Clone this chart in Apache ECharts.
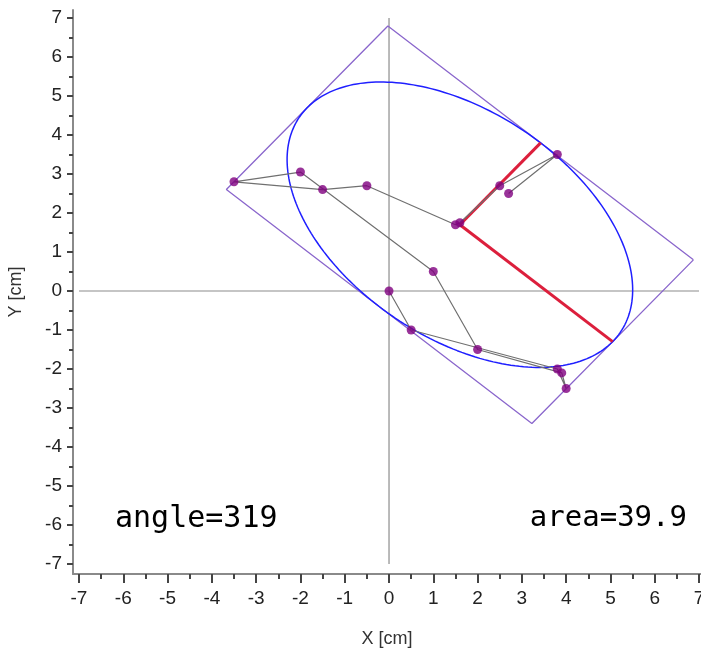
<!DOCTYPE html>
<html>
<head>
<meta charset="utf-8">
<title>Ellipse fit</title>
<script src="https://cdn.jsdelivr.net/npm/echarts@6/dist/echarts.min.js"></script>
<style>
  html, body { margin: 0; padding: 0; background: #ffffff; }
  #chart { width: 701px; height: 653px; }
</style>
</head>
<body>
<div id="chart"></div>
<script>
// Tracked positions, in drawing order (cm)
const pathX = [0, 0.5, 3.8, 4.0, 3.9, 2.0, 1.0, -2.0, -3.5, -1.5, -0.5, 1.5, 1.6, 2.5, 3.8, 2.7];
const pathY = [0, -1.0, -2.0, -2.5, -2.1, -1.5, 0.5, 3.05, 2.8, 2.6, 2.7, 1.7, 1.75, 2.7, 3.5, 2.5];

// Fitted ellipse
const ellipseCenter = [1.6, 1.7];
const ellipseAngle = 319;      // degrees
const ellipseArea = 39.9;      // cm^2
const semiMajor = 4.57;        // cm
const semiMinor = ellipseArea / (Math.PI * semiMajor);

// Axis tick labels
const majorTicks = [-7, -6, -5, -4, -3, -2, -1, 0, 1, 2, 3, 4, 5, 6, 7];
const minorTicks = [-6.5, -5.5, -4.5, -3.5, -2.5, -1.5, -0.5, 0.5, 1.5, 2.5, 3.5, 4.5, 5.5, 6.5];

const rad = ellipseAngle * Math.PI / 180;
const u = [Math.cos(rad), Math.sin(rad)];     // major axis direction
const v = [-Math.sin(rad), Math.cos(rad)];    // minor axis direction
function at(s, t) {
  return [ellipseCenter[0] + s * u[0] + t * v[0],
          ellipseCenter[1] + s * u[1] + t * v[1]];
}

// Outline of the ellipse from its center, semi-axes and angle
const ellipsePts = [];
for (let k = 0; k <= 240; k++) {
  const th = 2 * Math.PI * k / 240;
  ellipsePts.push(at(semiMajor * Math.cos(th), semiMinor * Math.sin(th)));
}
// Bounding rectangle aligned with the ellipse axes
const boxPts = [
  at(semiMajor, semiMinor), at(semiMajor, -semiMinor),
  at(-semiMajor, -semiMinor), at(-semiMajor, semiMinor),
  at(semiMajor, semiMinor)
];
const pathPts = pathX.map((x, i) => [x, pathY[i]]);

const labelFont = 'Liberation Sans, Arial, sans-serif';

const chart = echarts.init(document.getElementById('chart'), null, { renderer: 'canvas' });

function baseAxis(extra) {
  return Object.assign({
    type: 'value',
    splitLine: { show: false }
  }, extra);
}

chart.setOption({
  animation: false,
  backgroundColor: '#ffffff',
  grid: { left: 73, right: 0, top: 10, bottom: 79, containLabel: false, outerBoundsMode: 'none' },
  xAxis: [
    baseAxis({
      position: 'bottom',
      min: -7.135, max: 7.044,
      axisLine: { show: true, onZero: false, lineStyle: { color: '#8a8a8a', width: 2 } },
      axisTick: { show: true, customValues: majorTicks, length: 9, lineStyle: { color: '#444', width: 2 } },
      axisLabel: { customValues: majorTicks, fontSize: 19, color: '#222', margin: 15, fontFamily: labelFont },
      name: 'X [cm]', nameLocation: 'middle', nameGap: 56,
      nameTextStyle: { fontSize: 18, color: '#333', fontFamily: labelFont }
    }),
    baseAxis({
      position: 'bottom',
      min: -7.135, max: 7.044,
      axisLine: { show: false, onZero: false },
      axisTick: { show: true, customValues: minorTicks, length: 5, lineStyle: { color: '#444', width: 2 } },
      axisLabel: { show: false }
    })
  ],
  yAxis: [
    baseAxis({
      position: 'left',
      min: -7.256, max: 7.205,
      axisLine: { show: true, onZero: false, lineStyle: { color: '#8a8a8a', width: 2 } },
      axisTick: { show: true, customValues: majorTicks, length: 6, lineStyle: { color: '#444', width: 2 } },
      axisLabel: { customValues: majorTicks, fontSize: 19, color: '#222', margin: 11, fontFamily: labelFont },
      name: 'Y [cm]', nameLocation: 'middle', nameGap: 48,
      nameTextStyle: { fontSize: 18, color: '#333', fontFamily: labelFont }
    }),
    baseAxis({
      position: 'left',
      min: -7.256, max: 7.205,
      axisLine: { show: false, onZero: false },
      axisTick: { show: true, customValues: minorTicks, length: 4, lineStyle: { color: '#444', width: 2 } },
      axisLabel: { show: false }
    })
  ],
  graphic: [
    { type: 'text', left: 115, top: 504,
      style: { text: 'angle=' + ellipseAngle, font: '30px "DejaVu Sans Mono", monospace', fill: '#000' } },
    { type: 'text', right: 14, top: 504,
      style: { text: 'area=' + ellipseArea, font: '29px "DejaVu Sans Mono", monospace', fill: '#000' } }
  ],
  series: [
    { type: 'line', data: [[-7, 0], [7, 0]], showSymbol: false, silent: true,
      lineStyle: { color: '#8c8c8c', width: 1.2 }, z: 1 },
    { type: 'line', data: [[0, -7], [0, 7]], showSymbol: false, silent: true,
      lineStyle: { color: '#8c8c8c', width: 1.2 }, z: 1 },
    { type: 'line', data: boxPts, showSymbol: false, silent: true,
      lineStyle: { color: '#8a66cc', width: 1.3 }, z: 2 },
    { type: 'line', data: ellipsePts, showSymbol: false, silent: true, smooth: false,
      lineStyle: { color: '#1f1fff', width: 1.5 }, z: 3 },
    { type: 'line', data: [ellipseCenter, at(semiMajor, 0)], showSymbol: false, silent: true,
      lineStyle: { color: '#dc1f3c', width: 3 }, z: 4 },
    { type: 'line', data: [ellipseCenter, at(0, semiMinor)], showSymbol: false, silent: true,
      lineStyle: { color: '#dc1f3c', width: 3 }, z: 4 },
    { type: 'line', data: pathPts, showSymbol: false, silent: true,
      lineStyle: { color: '#707070', width: 1.2 }, z: 5 },
    { type: 'scatter', data: pathPts, symbol: 'circle', symbolSize: 9, silent: true,
      itemStyle: { color: '#800080' }, z: 6 }
  ]
});
</script>
</body>
</html>
